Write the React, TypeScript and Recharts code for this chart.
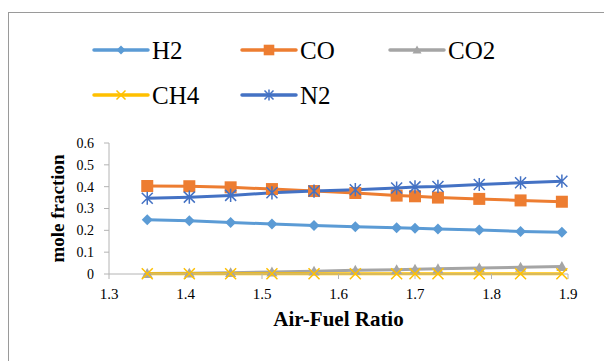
import React from 'react';
import { LineChart, Line, XAxis, YAxis } from 'recharts';

const afr = [1.35, 1.405, 1.459, 1.513, 1.568, 1.622, 1.676, 1.7, 1.73, 1.784, 1.838, 1.892];
const h2 = [0.248, 0.244, 0.236, 0.229, 0.222, 0.216, 0.212, 0.209, 0.206, 0.202, 0.195, 0.191];
const co = [0.403, 0.402, 0.397, 0.389, 0.38, 0.371, 0.359, 0.356, 0.35, 0.344, 0.337, 0.331];
const co2 = [0.002, 0.004, 0.006, 0.009, 0.013, 0.017, 0.02, 0.022, 0.024, 0.028, 0.031, 0.034];
const ch4 = [0.001, 0.001, 0.001, 0.001, 0.001, 0.001, 0.001, 0.001, 0.001, 0.001, 0.001, 0.001];
const n2 = [0.347, 0.352, 0.36, 0.372, 0.38, 0.386, 0.394, 0.399, 0.401, 0.41, 0.418, 0.425];

const xTicks = [1.3, 1.4, 1.5, 1.6, 1.7, 1.8, 1.9];
const yTicks = [0, 0.1, 0.2, 0.3, 0.4, 0.5, 0.6];

const data = afr.map((x, i) => ({ x, H2: h2[i], CO: co[i], CO2: co2[i], CH4: ch4[i], N2: n2[i] }));

type Shape = 'diamond' | 'square' | 'triangle' | 'x' | 'star';

const series: { key: string; color: string; shape: Shape }[] = [
    { key: 'H2', color: '#5B9BD5', shape: 'diamond' },
    { key: 'CO', color: '#ED7D31', shape: 'square' },
    { key: 'CO2', color: '#A5A5A5', shape: 'triangle' },
    { key: 'CH4', color: '#FFC000', shape: 'x' },
    { key: 'N2', color: '#4472C4', shape: 'star' },
];

const font = 'Liberation Serif';

function Marker({ shape, color, cx, cy, r }: { shape: Shape; color: string; cx: number; cy: number; r: number }) {
    switch (shape) {
        case 'diamond':
            return <path d={`M${cx},${cy - r}L${cx + r},${cy}L${cx},${cy + r}L${cx - r},${cy}Z`} fill={color} />;
        case 'square':
            return <rect x={cx - r} y={cy - r} width={2 * r} height={2 * r} fill={color} />;
        case 'triangle':
            return <path d={`M${cx},${cy - r}L${cx + r},${cy + r * 0.8}L${cx - r},${cy + r * 0.8}Z`} fill={color} />;
        case 'x':
            return (
                <path d={`M${cx - r},${cy - r}L${cx + r},${cy + r}M${cx + r},${cy - r}L${cx - r},${cy + r}`} stroke={color} strokeWidth={1.5} />
            );
        default:
            return (
                <path
                    d={`M${cx - r},${cy - r}L${cx + r},${cy + r}M${cx + r},${cy - r}L${cx - r},${cy + r}M${cx},${cy - r * 1.2}L${cx},${cy + r * 1.2}`}
                    stroke={color}
                    strokeWidth={1.5}
                />
            );
    }
}

const dotFor = (shape: Shape, color: string, r: number) => (props: any) => (
    <g key={`${shape}-${props.index}`}>
        <Marker shape={shape} color={color} cx={props.cx} cy={props.cy} r={r} />
    </g>
);

// legend slots: two rows, three columns
const legendPos = [
    { x: 94, y: 50 },
    { x: 242, y: 50 },
    { x: 390, y: 50 },
    { x: 94, y: 95 },
    { x: 242, y: 95 },
];

function ChartLegend() {
    return (
        <svg width={604} height={130} style={{ position: 'absolute', left: 0, top: 0 }}>
            {series.map((s, i) => {
                const p = legendPos[i];
                return (
                    <g key={s.key}>
                        <line x1={p.x} x2={p.x + 54} y1={p.y} y2={p.y} stroke={s.color} strokeWidth={3.5} strokeLinecap="round" />
                        <Marker shape={s.shape} color={s.color} cx={p.x + 27} cy={p.y} r={s.shape === 'square' ? 5.3 : 4.5} />
                        <text x={p.x + 58} y={p.y + 9} fontSize={25} fontFamily={font} fill="#000">
                            {s.key}
                        </text>
                    </g>
                );
            })}
        </svg>
    );
}

export default function App() {
    return (
        <div style={{ position: 'absolute', left: 0, top: 0, width: 604, height: 361, background: '#fff', overflow: 'hidden' }}>
            <style>{'body{margin:0}'}</style>
            <div
                style={{
                    position: 'absolute',
                    left: 8,
                    top: 12,
                    width: 700,
                    height: 400,
                    borderTop: '1px solid #9a9a9a',
                    borderLeft: '1px solid #9a9a9a',
                }}
            />
            <ChartLegend />
            <div style={{ position: 'absolute', left: 0, top: 0 }}>
                <LineChart width={604} height={361} data={data} margin={{ top: 143, right: 36, left: 0, bottom: 0 }}>
                    <XAxis
                        dataKey="x"
                        type="number"
                        domain={[1.3, 1.9]}
                        ticks={xTicks}
                        tickFormatter={(v: number) => v.toFixed(1)}
                        height={87}
                        tickSize={5}
                        tickMargin={9}
                        stroke="#b4b4b4"
                        tick={{ fontSize: 15, fill: '#000', fontFamily: font }}
                        label={{
                            value: 'Air-Fuel Ratio',
                            position: 'insideTop',
                            offset: 37,
                            style: { fontSize: 21, fontWeight: 'bold', fill: '#000', fontFamily: font },
                        }}
                    />
                    <YAxis
                        type="number"
                        domain={[0, 0.6]}
                        ticks={yTicks}
                        width={109}
                        tickSize={5}
                        tickMargin={10}
                        stroke="#b4b4b4"
                        tickFormatter={(v: number) => (v === 0 ? '0' : v.toFixed(1))}
                        tick={{ fontSize: 14, fill: '#000', fontFamily: font }}
                        label={{
                            value: 'mole fraction',
                            angle: -90,
                            position: 'insideLeft',
                            offset: 57,
                            style: { fontSize: 19, fontWeight: 'bold', fill: '#000', fontFamily: font, textAnchor: 'middle' },
                        }}
                    />
                    {series.map((s) => (
                        <Line
                            key={s.key}
                            dataKey={s.key}
                            stroke={s.color}
                            strokeWidth={3}
                            isAnimationActive={false}
                            dot={dotFor(s.shape, s.color, s.shape === 'square' ? 6 : 5.5)}
                            activeDot={false}
                        />
                    ))}
                </LineChart>
            </div>
        </div>
    );
}
